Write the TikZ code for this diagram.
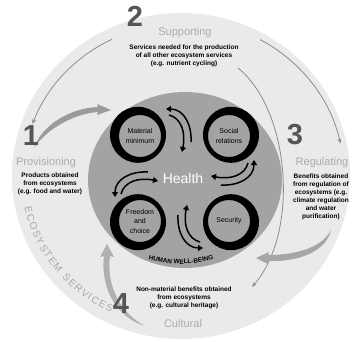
\documentclass[tikz,border=0pt]{standalone}
\usepackage{fontspec}
\setmainfont{Liberation Sans}
\usetikzlibrary{arrows.meta,decorations.text,calc}
\definecolor{ringlight}{HTML}{EAEAEA}
\definecolor{ringmid}{HTML}{DCDCDC}
\definecolor{ringout}{HTML}{C4C4C4}
\definecolor{diskgray}{HTML}{A3A3A3}
\definecolor{labgray}{HTML}{ABABAB}
\definecolor{numgray}{HTML}{555555}
\definecolor{arrgray}{HTML}{8C8C8C}
\definecolor{taperA}{HTML}{9A9A9A}
\definecolor{taperB}{HTML}{A6A6A6}
\definecolor{taperC}{HTML}{B0B0B0}
\definecolor{ecogray}{HTML}{A8A8A8}
\pgfdeclareradialshading{ringshade}{\pgfpoint{0bp}{0bp}}{color(0bp)=(ringlight); color(27bp)=(ringlight); color(36bp)=(ringmid); color(50bp)=(ringout); color(75bp)=(ringout)}
\begin{document}
\begin{tikzpicture}[x=1pt,y=-1pt,
  wbcirc/.style={circle, fill=diskgray, minimum size=42pt, inner sep=0pt, align=center, font=\fontsize{7}{9.5}\selectfont, text=black},
  desc/.style={align=center, font=\fontsize{6.5}{8}\selectfont\bfseries, text=black, inner sep=0pt},
  svc/.style={font=\fontsize{11}{12}\selectfont, text=labgray, inner sep=0pt},
  numlabel/.style={font=\fontsize{29}{29}\selectfont\bfseries, text=numgray, inner sep=0pt},
  thinarr/.style={draw=arrgray, line width=0.8pt, -{Stealth[length=5pt,width=4pt]}},
  blkarr/.style={draw=black, line width=1.5pt, -{Triangle[length=5pt,width=6pt]}},
  ringfill/.style={fill=black, even odd rule}
]
\useasboundingbox (0,0) rectangle (353,342);
\fill[white] (0,0) rectangle (353,342);
\coordinate (oc) at (181,176);
\shade[shading=ringshade] (oc) ellipse [x radius=169, y radius=163];
\fill[diskgray] (185,180) ellipse [x radius=97, y radius=88];

% outer thin arrows
\draw[thinarr] ($(oc)+(244:158 and 152)$) arc[start angle=244, end angle=200, x radius=158, y radius=152];
\draw[thinarr] ($(oc)+(-61:163 and 156)$) arc[start angle=-61, end angle=-12, x radius=163, y radius=156];
\draw[thinarr] (238,68) .. controls (290,110) and (300,232) .. (252,287);

% tapered arrows
\fill[taperA] (34,148) .. controls (42,125) and (70,108) .. (98,107) -- (97,104) -- (111,110) -- (97,115) -- (98,112) .. controls (72,114) and (46,130) .. (34,148) -- cycle;
\fill[taperB] (331,230) .. controls (322,248) and (295,255) .. (268,255) -- (269,252) -- (256,258) -- (268,264) -- (268,261) .. controls (298,262) and (326,252) .. (331,230) -- cycle;
\fill[taperC] (145,326) .. controls (118,318) and (100,290) .. (104,256) -- (100,257) -- (107,244) -- (114,257) -- (110,256) .. controls (106,288) and (122,314) .. (145,326) -- cycle;

% constituents of well-being
\node[wbcirc] (mat) at (140,136) {Material\\minimum};
\node[wbcirc] (soc) at (229,136) {Social\\relations};
\node[wbcirc] (fre) at (140,221) {Freedom\\and\\choice};
\node[wbcirc] (sec) at (229,221) {Security};
\fill[ringfill] ($(mat.center)+(-2,-1.2)$) circle[radius=28] (mat.center) circle[radius=21];
\fill[ringfill] ($(soc.center)+(2,-1.2)$) circle[radius=28] (soc.center) circle[radius=21];
\fill[ringfill] ($(fre.center)+(-2,1.2)$) circle[radius=28] (fre.center) circle[radius=21];
\fill[ringfill] ($(sec.center)+(2,1.2)$) circle[radius=28] (sec.center) circle[radius=21];

\node[font=\fontsize{14}{14}\selectfont, text=white, inner sep=0pt] (health) at (183,178) {Health};

\foreach \r in {0,90,180,270} {
  \begin{scope}[shift={(184.5,178.5)}, rotate=\r]
    \draw[blkarr] (-15.5,-63.5) .. controls (-3.5,-60.5) and (1.5,-46.5) .. (-2.5,-26.5);
    \draw[blkarr] (6.5,-36.5) .. controls (7.5,-53.5) and (-0.5,-69.5) .. (-18.5,-69.5);
  \end{scope}
}

\coordinate (hc) at (181,154);
\path[decorate, decoration={text along path, text align=center, text color=black, text={|\fontsize{6.4}{7}\selectfont\bfseries|HUMAN WELL-BEING}}] ($(hc)+(115:110)$) arc[start angle=115, end angle=65, radius=110];

\path[decorate, decoration={text along path, text align={fit to path}, text color=ecogray, text={|\fontsize{10}{10}\selectfont|ECOSYSTEM SERVICES}}] ($(oc)+(168:160 and 152)$) arc[start angle=168, end angle=116, x radius=160, y radius=152];

% service labels
\node[numlabel] (n2) at (135,16) {2};
\node[svc] (sup) at (185,33) {Supporting};
\node[desc] (supd) at (184,56) {Services needed for the production\\of all other ecosystem services\\(e.g. nutrient cycling)};
\node[numlabel] (n1) at (31,136) {1};
\node[svc] (pro) at (46,163) {Provisioning};
\node[desc] (prod) at (50,184) {Products obtained\\from ecosystems\\(e.g. food and water)};
\node[numlabel] (n3) at (295,135) {3};
\node[svc] (reg) at (322,163) {Regulating};
\node[desc] (regd) at (321,197) {Benefits obtained\\from regulation of\\ecosystems (e.g.\\climate regulation\\and water\\purification)};
\node[numlabel] (n4) at (121,304) {4};
\node[desc] (culd) at (184,298) {Non-material benefits obtained\\from ecosystems\\(e.g. cultural heritage)};
\node[svc] (cul) at (183,324) {Cultural};
\end{tikzpicture}
\end{document}
